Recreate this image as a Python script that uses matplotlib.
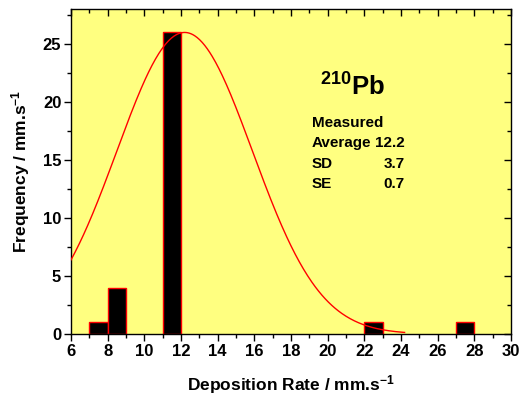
import numpy as np
import matplotlib
matplotlib.use("Agg")
import matplotlib.pyplot as plt
from matplotlib.ticker import MultipleLocator

plt.rcParams['font.family'] = ['Liberation Sans', 'DejaVu Sans']
plt.rcParams['font.weight'] = 'bold'
plt.rcParams['mathtext.fontset'] = 'custom'
plt.rcParams['mathtext.rm'] = 'Liberation Sans:bold'
plt.rcParams['mathtext.it'] = 'Liberation Sans:bold'
plt.rcParams['mathtext.bf'] = 'Liberation Sans:bold'
plt.rcParams['mathtext.default'] = 'rm'

# Histogram data (bin left edges, counts)
bin_left = [7, 8, 11, 22, 27]
counts = [1, 4, 26, 1, 1]
bin_width = 1

# Gaussian fit parameters
fit_mean = 12.2
fit_sd = 3.7
fit_amp = 26.0
fit_xmin, fit_xmax = 6.0, 24.2

fig = plt.figure(figsize=(5.2, 3.97), dpi=100)
ax = fig.add_axes([0.1365, 0.1587, 0.846, 0.818])
ax.set_facecolor('#FFFF80')

ax.bar(bin_left, counts, width=bin_width, align='edge', color='black',
       edgecolor='red', linewidth=1.0, zorder=2)

xs = np.linspace(fit_xmin, fit_xmax, 400)
ys = fit_amp * np.exp(-(xs - fit_mean) ** 2 / (2 * fit_sd ** 2))
ax.plot(xs, ys, color='red', lw=1.0, zorder=3)

ax.set_xlim(6, 30)
ax.set_ylim(0, 28)
ax.xaxis.set_major_locator(MultipleLocator(2))
ax.xaxis.set_minor_locator(MultipleLocator(1))
ax.yaxis.set_major_locator(MultipleLocator(5))
ax.yaxis.set_minor_locator(MultipleLocator(2.5))

ax.tick_params(which='both', top=True, right=True, labelsize=12, width=1.0)
ax.tick_params(axis='x', which='both', direction='out', pad=2)
ax.tick_params(axis='y', which='both', direction='out', pad=2)
ax.tick_params(which='major', length=5)
ax.tick_params(which='minor', length=3)
# top/right ticks inward
for t in ax.xaxis.get_major_ticks() + ax.xaxis.get_minor_ticks():
    t.tick2line.set_marker(3)  # TICKDOWN
for t in ax.yaxis.get_major_ticks() + ax.yaxis.get_minor_ticks():
    t.tick2line.set_marker(0)  # TICKLEFT
for lab in ax.get_xticklabels() + ax.get_yticklabels():
    lab.set_fontweight('bold')
for s in ax.spines.values():
    s.set_linewidth(1.0)

ax.set_xlabel('Deposition Rate / mm.s$^{-1}$', fontsize=12.5, fontweight='bold', labelpad=10)
ax.set_ylabel('Frequency / mm.s$^{-1}$', fontsize=12.5, fontweight='bold', labelpad=8)

ax.text(320/520, 1 - 96/397, '$^{210}$Pb', transform=fig.transFigure, fontsize=18.5,
        fontweight='bold', ha='left', va='baseline')
rows = [('Measured', ''), ('Average', '12.2'), ('SD', '3.7'), ('SE', '0.7')]
y0 = 127
for i, (a, b) in enumerate(rows):
    yy = 1 - (y0 + i * 20.3) / 397
    ax.text(312/520, yy, a, transform=fig.transFigure, fontsize=11, fontweight='bold',
            ha='left', va='baseline')
    if b:
        ax.text(405/520, yy, b, transform=fig.transFigure, fontsize=11, fontweight='bold',
                ha='right', va='baseline')

fig.savefig('out.png', dpi=100)
